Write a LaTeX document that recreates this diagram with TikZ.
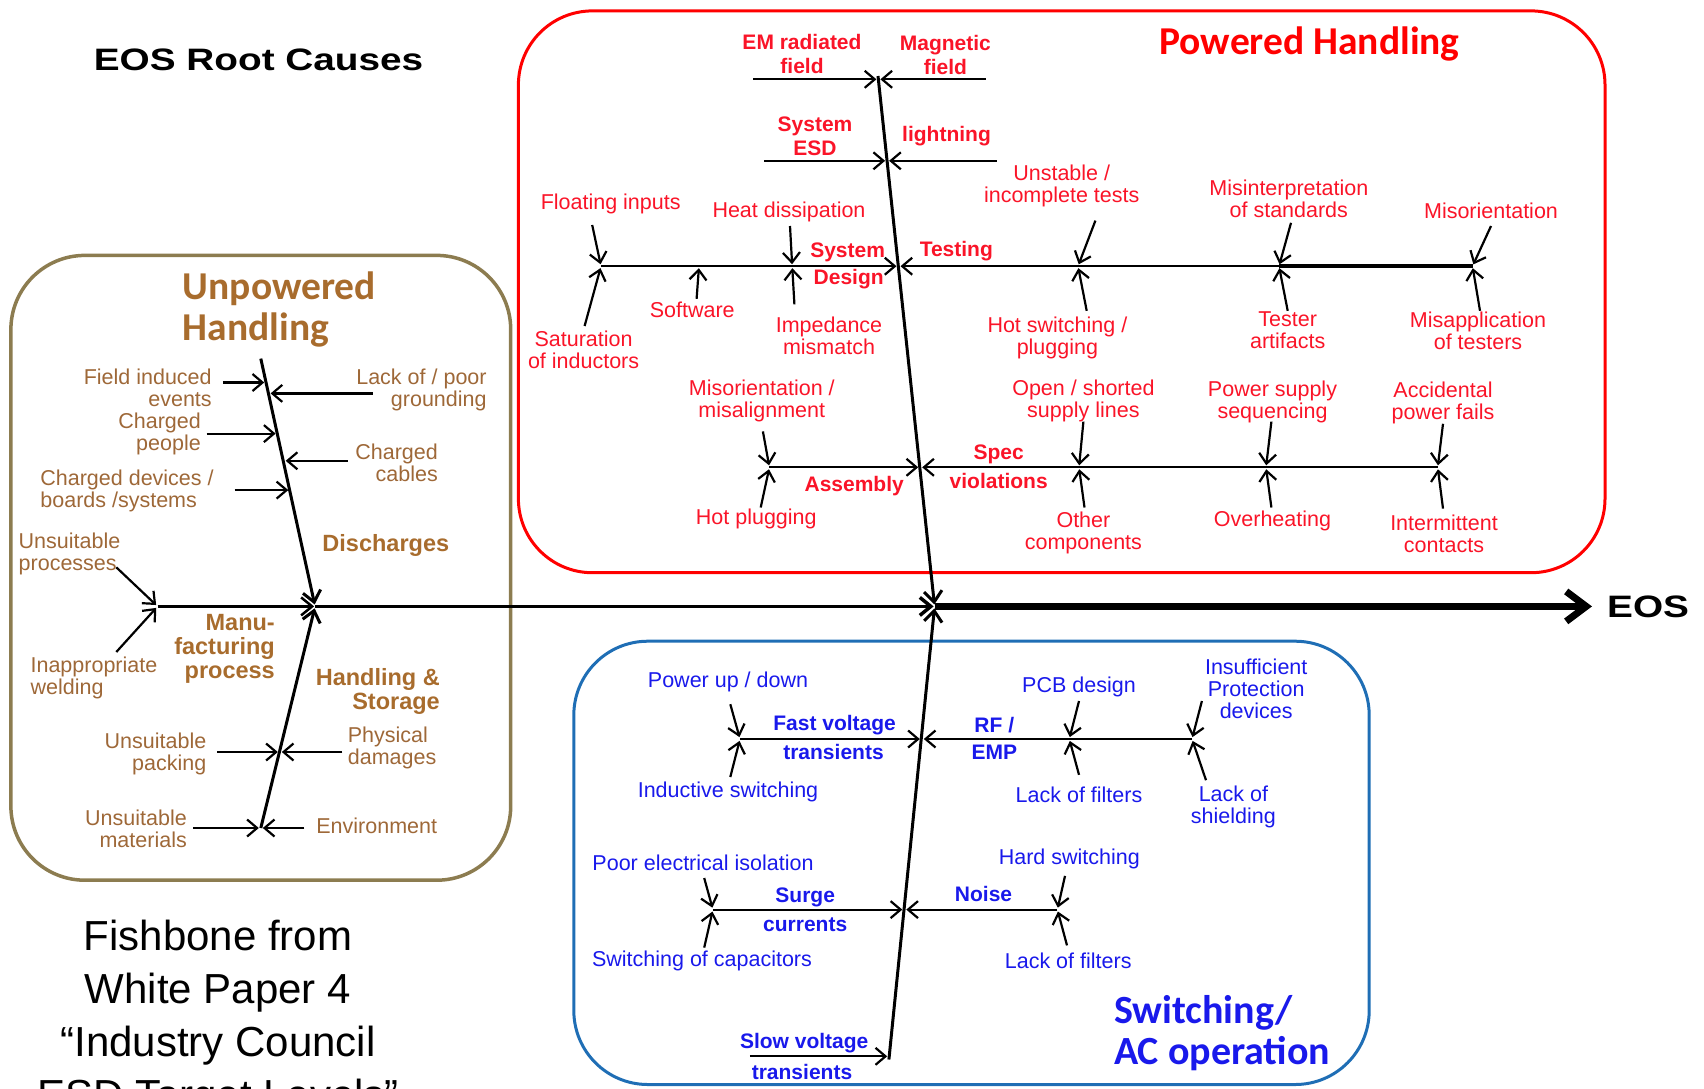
\documentclass[tikz,border=0pt]{standalone}
\usepackage{fontspec}
\setmainfont{Liberation Sans}
\newfontfamily\widefont{Liberation Sans}[FakeStretch=1.25]
\newfontfamily\calfont{Carlito}
\usetikzlibrary{arrows.meta}

\definecolor{boxred}{RGB}{255,0,0}
\definecolor{labred}{RGB}{250,20,40}
\definecolor{boxblue}{RGB}{31,110,181}
\definecolor{labblue}{RGB}{25,25,235}
\definecolor{boxbrown}{RGB}{140,124,80}
\definecolor{labbrown}{RGB}{158,104,56}
\definecolor{ttlbrown}{RGB}{168,108,45}

\begin{document}
\begin{tikzpicture}[x=1pt,y=-1pt,
  cause/.style={draw=black, line width=2.2pt, shorten >=2pt, -{Straight Barb[length=10pt,width=17pt]}},
  bone/.style={draw=black, line width=3pt, shorten >=2pt, -{Straight Barb[length=11pt,width=18pt]}},
  lab/.style={inner sep=0pt, align=center, font=\fontsize{21.5}{22}\selectfont},
  redlab/.style={lab, text=labred},
  bluelab/.style={lab, text=labblue},
  brlab/.style={lab, text=labbrown},
  cat/.style={inner sep=0pt, align=center, font=\fontsize{21}{24}\selectfont\bfseries},
  redcat/.style={cat, text=labred},
  bluecat/.style={cat, text=labblue},
  brcat/.style={inner sep=0pt, font=\fontsize{23.5}{24}\selectfont\bfseries, text=ttlbrown},
  grouptitle/.style={inner sep=0pt, font=\fontsize{39.5}{41}\selectfont\calfont\bfseries},
  groupbox/.style={line width=3pt, rounded corners=74pt},
  bigtext/.style={inner sep=0pt, font=\fontsize{31}{34}\selectfont\widefont\bfseries},
  caption/.style={inner sep=0pt, anchor=base, font=\fontsize{42}{53}\selectfont}
]
\useasboundingbox (0,0) rectangle (1704,1088);
\clip (0,0) rectangle (1704,1088);

% ---------- group frames ----------
\draw[groupbox, draw=boxred] (518.4,10.9) rectangle (1605,572.7);
\draw[groupbox, draw=boxbrown, line width=3.5pt] (10.9,255.4) rectangle (510.7,880.2);
\draw[groupbox, draw=boxblue] (573.8,641.2) rectangle (1369.2,1084.5);

% ---------- titles ----------
\node[bigtext] (title) at (258.6,59.8) {EOS Root Causes};
\node[bigtext, anchor=west] (eos) at (1607,606.4) {EOS};
\node[grouptitle, text=boxred] (phT) at (1309.5,43.5) {Powered Handling};
\node[grouptitle, text=ttlbrown, anchor=west, align=left] (uhT) at (182.6,309.7) {Unpowered\\Handling};
\node[grouptitle, text=labblue, anchor=west, align=left, font=\fontsize{40}{41}\selectfont\calfont\bfseries] (swT) at (1113.9,1033.5) {Switching/\\AC operation};

\node[caption] (c1) at (218,950) {Fishbone from};
\node[caption] (c2) at (218,1003) {White Paper 4};
\node[caption] (c3) at (218,1056) {“Industry Council};
\node[caption] (c4) at (218,1109) {ESD Target Levels”};

% ---------- main spine ----------
\coordinate (S0) at (157.6,606.4);
\coordinate (M)  at (315.1,606.4);
\coordinate (PJ) at (934.6,606.4);
\coordinate (tip) at (1592,606.4);
\draw[line width=2.5pt, shorten >=1pt, -{Straight Barb[length=11pt,width=18pt]}] (S0) -- (M);
\draw[line width=3.5pt, shorten >=1pt, -{Straight Barb[length=11pt,width=18pt]}] (M) -- (PJ);
\draw[line width=7pt, -{Straight Barb[length=20pt,width=30pt]}] (PJ) -- (tip);

% ---------- powered handling ----------
\coordinate (PHtop) at (878,76);
\coordinate (P1) at (878.4,79.3);
\coordinate (P2) at (887.1,160.8);
\coordinate (P3) at (898.5,266.2);
\coordinate (P4) at (920.2,467.3);
\draw[bone] (PHtop) -- (PJ);

\coordinate (emS) at (753,79.3);
\coordinate (magS) at (985.6,79.3);
\coordinate (sesdS) at (764,160.8);
\coordinate (lightS) at (996.5,160.8);
\draw[cause] (emS) -- (P1);
\draw[cause] (magS) -- (P1);
\draw[cause] (sesdS) -- (P2);
\draw[cause] (lightS) -- (P2);

\coordinate (J1) at (601,266.2);
\coordinate (SW) at (699,266.2);
\coordinate (J2) at (792.2,266.2);
\coordinate (J3) at (1078,266.2);
\coordinate (J4) at (1279,266.2);
\coordinate (J5) at (1472.5,266.2);
\coordinate (J6) at (769.4,467.3);
\coordinate (J7) at (1079,467.3);
\coordinate (J8) at (1266,467.3);
\coordinate (J9) at (1437.7,467.3);
\draw[line width=4.5pt] (J4) -- (J5);
\draw[cause] (J1) -- (P3);
\draw[cause] (J5) -- (P3);
\draw[cause] (J6) -- (P4);
\draw[cause] (J9) -- (P4);

\node[redcat] (emL) at (802,54.3) {EM radiated\\field};
\node[redcat] (magL) at (945.4,55.4) {Magnetic\\field};
\node[redcat] (sesdL) at (815,135.8) {System\\ESD};
\node[redcat] (lightL) at (946.5,135.8) {lightning};
\node[redcat] (sysL) at (847.6,252.1) {System};
\node[redcat] (desL) at (848.7,279.3) {Design};
\node[redcat] (testL) at (956.3,251) {Testing};
\node[redcat] (asmL) at (854.2,485.8) {Assembly};
\node[redcat] (specL) at (998.7,454.2) {Spec};
\node[redcat] (violL) at (998.7,481.4) {violations};

\node[redlab] (floatL) at (610.7,204.3) {Floating inputs};
\node[redlab] (satL) at (583.6,350) {Saturation\\of inductors};
\node[redlab] (softL) at (692.2,309.7) {Software};
\node[redlab] (heatL) at (789,212) {Heat dissipation};
\node[redlab] (impL) at (829,335.8) {Impedance\\mismatch};
\node[redlab] (unstL) at (1061.7,185.8) {Unstable /\\incomplete tests};
\node[redlab] (hotsL) at (1057.4,338) {Hot switching /\\plugging};
\node[redlab] (misiL) at (1288.8,198.9) {Misinterpretation\\of standards};
\node[redlab] (testaL) at (1287.7,330.4) {Tester\\artifacts};
\node[redlab] (misoL) at (1491,210.8) {Misorientation};
\node[redlab] (misaL) at (1478,330.4) {Misapplication\\of testers};
\node[redlab] (misalL) at (761.8,401) {Misorientation /\\misalignment};
\node[redlab] (hotpL) at (756.3,519.4) {Hot plugging};
\node[redlab] (openL) at (1083.4,401) {Open / shorted\\supply lines};
\node[redlab] (otherL) at (1083.4,532.5) {Other\\components};
\node[redlab] (psL) at (1272.5,402) {Power supply\\sequencing};
\node[redlab] (overL) at (1272.5,520.5) {Overheating};
\node[redlab] (accL) at (1443,403) {Accidental\\power fails};
\node[redlab] (intL) at (1444,533.6) {Intermittent\\contacts};

\coordinate (floatS) at (592.2,225);
\coordinate (satS) at (584.6,326);
\coordinate (softS) at (696.6,298.8);
\coordinate (heatS) at (790,226);
\coordinate (impS) at (794.4,304.3);
\coordinate (unstS) at (1095.4,220.6);
\coordinate (hotsS) at (1086.7,310.8);
\coordinate (misiS) at (1291,222.8);
\coordinate (testaS) at (1287.7,310.8);
\coordinate (misoS) at (1491,226);
\coordinate (misaS) at (1480,310.8);
\coordinate (misalS) at (762.9,431.4);
\coordinate (hotpS) at (760.7,507.5);
\coordinate (openS) at (1083.4,421.6);
\coordinate (otherS) at (1084.5,507.5);
\coordinate (psS) at (1271.4,421.6);
\coordinate (overS) at (1271.4,507.5);
\coordinate (accS) at (1443,423.8);
\coordinate (intS) at (1443,508.6);

\draw[cause] (floatS) -- (J1);
\draw[cause] (satS) -- (J1);
\draw[cause] (softS) -- (SW);
\draw[cause] (heatS) -- (J2);
\draw[cause] (impS) -- (J2);
\draw[cause] (unstS) -- (J3);
\draw[cause] (hotsS) -- (J3);
\draw[cause] (misiS) -- (J4);
\draw[cause] (testaS) -- (J4);
\draw[cause] (misoS) -- (J5);
\draw[cause] (misaS) -- (J5);
\draw[cause] (misalS) -- (J6);
\draw[cause] (hotpS) -- (J6);
\draw[cause] (openS) -- (J7);
\draw[cause] (otherS) -- (J7);
\draw[cause] (psS) -- (J8);
\draw[cause] (overS) -- (J8);
\draw[cause] (accS) -- (J9);
\draw[cause] (intS) -- (J9);

% ---------- unpowered handling ----------
\coordinate (DStop) at (260.8,358.6);
\coordinate (HSbot) at (260.8,828);
\draw[bone] (DStop) -- (M);
\draw[bone] (HSbot) -- (M);

\coordinate (D1) at (266.2,382.5);
\coordinate (D2) at (268.6,393.4);
\coordinate (D3) at (277.6,433.6);
\coordinate (D4) at (283.7,460.8);
\coordinate (D5) at (290.3,490.1);
\coordinate (H1) at (279.8,752);
\coordinate (H2) at (260.8,828);

\coordinate (fieldS) at (222.8,382.5);
\coordinate (lackS) at (372.7,393.4);
\coordinate (cpS) at (206.5,433.6);
\coordinate (ccS) at (347.7,460.8);
\coordinate (cdS) at (234.7,490.1);
\coordinate (upS) at (116.3,567.3);
\coordinate (iwS) at (116.3,652);
\coordinate (upkS) at (217.3,752);
\coordinate (pdS) at (342.3,752);
\coordinate (umS) at (193.4,828);
\coordinate (envS) at (304.3,828);

\draw[cause] (fieldS) -- (D1);
\draw[cause] (lackS) -- (D2);
\draw[cause] (cpS) -- (D3);
\draw[cause] (ccS) -- (D4);
\draw[cause] (cdS) -- (D5);
\draw[cause] (upS) -- (S0);
\draw[cause] (iwS) -- (S0);
\draw[cause] (upkS) -- (H1);
\draw[cause] (pdS) -- (H1);
\draw[cause] (umS) -- (H2);
\draw[cause] (envS) -- (H2);

\node[brlab, anchor=east, align=right] (fieldL) at (211.9,388) {Field induced\\events};
\node[brlab, anchor=east, align=right] (lackL) at (486.8,389.6) {Lack of / poor\\grounding};
\node[brlab, anchor=east, align=right] (cpL) at (201,434) {Charged\\people};
\node[brlab, anchor=east, align=right] (ccL) at (438,463) {Charged\\cables};
\node[brlab, anchor=west, align=left] (cdL) at (40.2,491.2) {Charged devices /\\boards /systems};
\node[brlab, anchor=west, align=left] (upL) at (18.5,553.7) {Unsuitable\\processes};
\node[brlab, anchor=west, align=left] (iwL) at (30.4,677.6) {Inappropriate\\welding};
\node[brlab, anchor=east, align=right] (upkL) at (206.5,754) {Unsuitable\\packing};
\node[brlab, anchor=west, align=left] (pdL) at (347.7,748) {Physical\\damages};
\node[brlab, anchor=east, align=right] (umL) at (187,829) {Unsuitable\\materials};
\node[brlab, anchor=west] (envL) at (316.2,826) {Environment};

\node[brcat] (disL) at (385.8,545.5) {Discharges};
\node[brcat, anchor=east, align=right] (mfL) at (275,648.8) {Manu-\\facturing\\process};
\node[brcat, anchor=east, align=right] (hsL) at (440,691) {Handling \&\\Storage};

% ---------- switching / AC operation ----------
\coordinate (BLbot) at (888.9,1059.5);
\coordinate (B1) at (921.8,739);
\coordinate (B2) at (904.3,909.6);
\coordinate (B3) at (889.2,1056.3);
\draw[bone] (BLbot) -- (PJ);

\coordinate (J10) at (740,739);
\coordinate (J11) at (1069.3,739);
\coordinate (J12) at (1192,739);
\coordinate (J13) at (712.9,909.6);
\coordinate (J14) at (1057.4,909.6);
\coordinate (slowS) at (749.8,1056.3);
\draw[cause] (J10) -- (B1);
\draw[cause] (J12) -- (B1);
\draw[cause] (J13) -- (B2);
\draw[cause] (J14) -- (B2);
\draw[cause] (slowS) -- (B3);

\node[bluecat] (fvL) at (834.6,724.8) {Fast voltage};
\node[bluecat] (fv2L) at (833.5,752) {transients};
\node[bluecat] (rfL) at (994.3,724.8) {RF /};
\node[bluecat] (empL) at (994.3,752) {EMP};
\node[bluecat] (sgL) at (805.2,897.6) {Surge};
\node[bluecat] (curL) at (805.2,924.8) {currents};
\node[bluecat] (noiseL) at (983.5,894.4) {Noise};
\node[bluecat] (svL) at (804.2,1043.2) {Slow voltage};
\node[bluecat] (sv2L) at (802,1071.5) {transients};

\node[bluelab] (puL) at (728,682.4) {Power up / down};
\node[bluelab] (isL) at (728,792.2) {Inductive switching};
\node[bluelab] (pcbL) at (1079,686.8) {PCB design};
\node[bluelab] (lf1L) at (1079,794.4) {Lack of filters};
\node[bluelab] (ipL) at (1256.2,689) {Insufficient\\Protection\\devices};
\node[bluelab] (lsL) at (1233.4,807.4) {Lack of\\shielding};
\node[bluelab] (peL) at (703,862.8) {Poor electrical isolation};
\node[bluelab] (scL) at (702,960.6) {Switching of capacitors};
\node[bluelab] (hswL) at (1069.3,858.5) {Hard switching};
\node[bluelab] (lf2L) at (1068.2,960.6) {Lack of filters};

\coordinate (puS) at (730.3,704.2);
\coordinate (isS) at (730.3,777);
\coordinate (pcbS) at (1079,701);
\coordinate (lf1S) at (1079,774.8);
\coordinate (ipS) at (1201.9,701);
\coordinate (lsS) at (1206,780.2);
\coordinate (peS) at (704.2,878);
\coordinate (scS) at (704.2,947.6);
\coordinate (hswS) at (1065,875.9);
\coordinate (lf2S) at (1067,945.4);
\draw[cause] (puS) -- (J10);
\draw[cause] (isS) -- (J10);
\draw[cause] (pcbS) -- (J11);
\draw[cause] (lf1S) -- (J11);
\draw[cause] (ipS) -- (J12);
\draw[cause] (lsS) -- (J12);
\draw[cause] (peS) -- (J13);
\draw[cause] (scS) -- (J13);
\draw[cause] (hswS) -- (J14);
\draw[cause] (lf2S) -- (J14);
\end{tikzpicture}
\end{document}
